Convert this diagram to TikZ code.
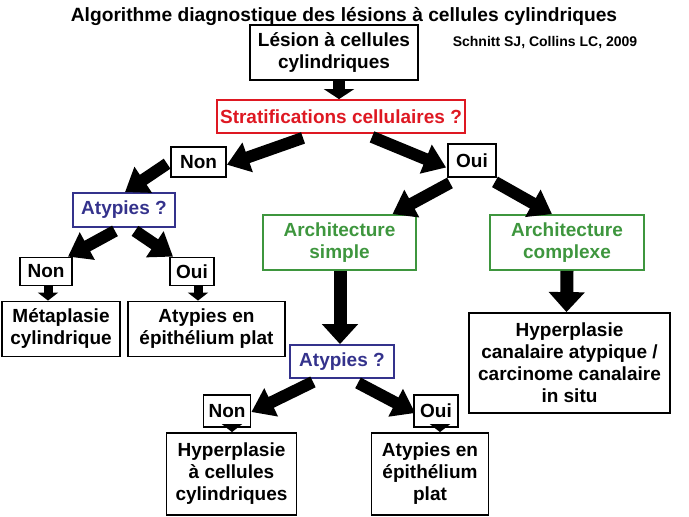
\documentclass[tikz,border=0pt]{standalone}
\usepackage{fontspec}
\setmainfont{Liberation Sans}
\usetikzlibrary{arrows.meta}
\definecolor{stratred}{RGB}{222,24,34}
\definecolor{atyblue}{RGB}{52,50,140}
\definecolor{archgreen}{RGB}{62,150,62}
\begin{document}
\begin{tikzpicture}[x = 1pt, y = -1pt,
	box/.style = {draw, line width = 1.8pt, align = center, inner sep = 0pt, font = \bfseries\fontsize{19}{22}\selectfont},
	fat/.style = {line width = 12pt, -{Triangle[width = 30pt, length = 22pt]}},
	tall/.style = {line width = 13pt, -{Triangle[width = 35pt, length = 20pt]}},
	stub/.style = {line width = 9pt, -{Triangle[width = 20pt, length = 8pt]}}]
	\useasboundingbox (0,0) rectangle (689,517);
	\node at (344,16) (title) {\bfseries\fontsize{19.2}{22}\selectfont Algorithme diagnostique des lésions à cellules cylindriques};
	\node at (545,43) (cite) {\bfseries\fontsize{14}{16}\selectfont Schnitt SJ, Collins LC, 2009};
	\node [box, minimum width = 168, minimum height = 55] at (334,52.5) (lesion) {Lésion à cellules\\cylindriques};
	\node [box, draw = stratred, text = stratred, minimum width = 248, minimum height = 33] at (341,116.5) (strat) {Stratifications cellulaires ?};
	\node [box, minimum width = 55, minimum height = 30] at (198.5,161.7) (non1) {Non};
	\node [box, minimum width = 48, minimum height = 33] at (472,160.5) (oui1) {Oui};
	\node [box, draw = atyblue, text = atyblue, minimum width = 102, minimum height = 34] at (124,210) (aty1) {Atypies ?};
	\node [box, draw = archgreen, text = archgreen, minimum width = 153, minimum height = 55] at (339.5,242.5) (archS) {Architecture\\simple};
	\node [box, draw = archgreen, text = archgreen, minimum width = 154, minimum height = 55] at (567,242.5) (archC) {Architecture\\complexe};
	\node [box, minimum width = 52, minimum height = 28] at (46,271.5) (non2) {Non};
	\node [box, minimum width = 44, minimum height = 28] at (192,271.5) (oui2) {Oui};
	\node [box, minimum width = 118, minimum height = 55] at (61,329) (meta) {Métaplasie\\cylindrique};
	\node [box, minimum width = 157, minimum height = 55] at (206.5,329) (atyEP) {Atypies en\\épithélium plat};
	\node [box, draw = atyblue, text = atyblue, minimum width = 104, minimum height = 33] at (342,361.5) (aty2) {Atypies ?};
	\node [box, minimum width = 201, minimum height = 100] at (569.5,363) (hypC) {Hyperplasie\\canalaire atypique /\\carcinome canalaire\\in situ};
	\node [box, minimum width = 47, minimum height = 32] at (227,411) (non3) {Non};
	\node [box, minimum width = 44, minimum height = 32] at (436,411) (oui3) {Oui};
	\node [box, minimum width = 130, minimum height = 82] at (231.5,474) (hypCyl) {Hyperplasie\\à cellules\\cylindriques};
	\node [box, minimum width = 117, minimum height = 82] at (430,474) (atyEP2) {Atypies en\\épithélium\\plat};
	% fat arrows
	\draw [line width = 12pt, -{Triangle[width = 30pt, length = 10pt]}] ([shift = {(5,0)}]lesion.south) -- ([shift = {(-2,0)}]strat.north);
	\draw [fat] ([shift = {(-38,4)}]strat.south) -- ([shift = {(0,3)}]non1.east);
	\draw [fat] ([shift = {(31,3)}]strat.south) -- ([shift = {(-1,7)}]oui1.west);
	\draw [fat] ([shift = {(-3,2)}]non1.west) -- ([shift = {(1,0)}]aty1.north);
	\draw [fat] ([shift = {(-22,5)}]oui1.south) -- ([shift = {(53,0)}]archS.north);
	\draw [fat] ([shift = {(23,4)}]oui1.south) -- ([shift = {(-15,0)}]archC.north);
	\draw [fat] ([shift = {(-9,3)}]aty1.south) -- ([shift = {(22,0)}]non2.north);
	\draw [fat] ([shift = {(11,3)}]aty1.south) -- ([shift = {(-19,0)}]oui2.north);
	\draw [tall] ([shift = {(0.5,0)}]archS.south) -- ([shift = {(-2,0)}]aty2.north);
	\draw [tall] (archC.south) -- ([shift = {(-3,0)}]hypC.north);
	\draw [fat] ([shift = {(-29,3)}]aty2.south) -- ([shift = {(0,1)}]non3.east);
	\draw [fat] ([shift = {(16,4)}]aty2.south) -- ([shift = {(2,2)}]oui3.west);
	% small ones
	\draw [stub] ([shift = {(2,0)}]non2.south) -- ([shift = {(-13,0)}]meta.north);
	\draw [stub] ([shift = {(6,0)}]oui2.south) -- ([shift = {(-8.5,0)}]atyEP.north);
	\draw [stub] ([shift = {(5,0)}]non3.south) -- ([shift = {(0.5,0)}]hypCyl.north);
	\draw [stub] ([shift = {(4,0)}]oui3.south) -- ([shift = {(10,0)}]atyEP2.north);
\end{tikzpicture}
\end{document}
